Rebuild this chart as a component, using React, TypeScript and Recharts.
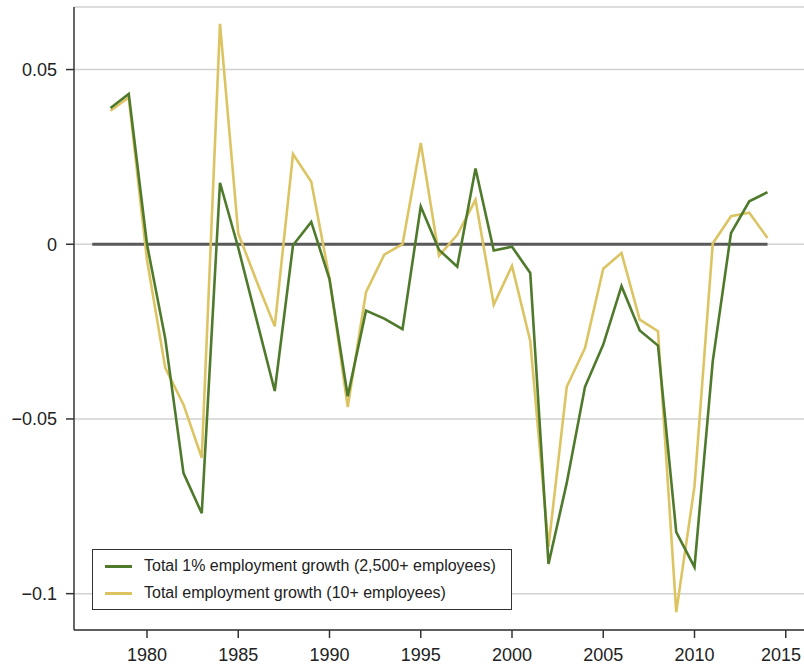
import { LineChart, Line, XAxis, YAxis, CartesianGrid } from 'recharts'

const GREEN  = '#4f7a2c'
const YELLOW = '#dcc463'
const ZERO   = '#595959'
const AXIS   = '#333333'
const FONT   = '"Liberation Sans", Arial, Helvetica, sans-serif'
const CHART_W = 804

// one row per year; the zero reference line spans the whole range
const YEARS = [
  1977, 1978, 1979, 1980, 1981, 1982, 1983, 1984, 1985, 1986,
  1987, 1988, 1989, 1990, 1991, 1992, 1993, 1994, 1995, 1996,
  1997, 1998, 1999, 2000, 2001, 2002, 2003, 2004, 2005, 2006,
  2007, 2008, 2009, 2010, 2011, 2012, 2013, 2014,
]

// 1978 – 2014
const TOP_1PCT_GROWTH = [
  0.039, 0.043, 0.0, -0.027, -0.0655, -0.077, 0.0176, -0.001, -0.0215,
  -0.042, -0.0003, 0.0064, -0.01, -0.0435, -0.019, -0.0213, -0.0243, 0.0108,
  -0.0016, -0.0064, 0.0217, -0.0018, -0.0007, -0.0082, -0.0915, -0.0683,
  -0.0408, -0.0287, -0.012, -0.0247, -0.029, -0.0824, -0.0924, -0.0335,
  0.0032, 0.0123, 0.0149,
]

// 1978 – 2014
const TOTAL_GROWTH = [
  0.0382, 0.042, -0.0045, -0.0354, -0.0459, -0.0611, 0.0631, 0.0031, -0.0105,
  -0.0235, 0.0258, 0.0179, -0.0097, -0.0466, -0.0137, -0.003, 0.0, 0.029,
  -0.0033, 0.0027, 0.0127, -0.0173, -0.0062, -0.0277, -0.0866, -0.0408,
  -0.0297, -0.007, -0.0025, -0.0216, -0.0249, -0.1053, -0.0693, 0.0002,
  0.008, 0.009, 0.0018,
]

const X_TICKS = [1980, 1985, 1990, 1995, 2000, 2005, 2010, 2015]
const Y_TICKS = [-0.1, -0.05, 0, 0.05]
const Y_LABELS: Record<string, string> = {
  '-0.1': '\u22120.1',
  '-0.05': '\u22120.05',
  '0': '0',
  '0.05': '0.05',
}

const LEGEND = [
  { label: 'Total 1% employment growth (2,500+ employees)', color: GREEN },
  { label: 'Total employment growth (10+ employees)', color: YELLOW },
]

const data = YEARS.map((year, i) => ({
  year,
  zero: 0,
  top: i === 0 ? null : TOP_1PCT_GROWTH[i - 1],
  total: i === 0 ? null : TOTAL_GROWTH[i - 1],
}))

const tickStyle = { fontSize: 18, fill: '#222', fontFamily: FONT }

// year labels; the last one is nudged left so it stays inside the frame
function YearTick(props: any) {
  const { x, y, payload } = props
  const half = 20
  const cx = Math.min(x, CHART_W - 3 - half)
  return (
    <text
      x={cx}
      y={y}
      dy="0.71em"
      textAnchor="middle"
      fontSize={18}
      fill="#222"
      fontFamily={FONT}
    >
      {payload.value}
    </text>
  )
}

export default function App() {
  return (
    <div style={{ position: 'absolute', left: 0, top: 0, width: 804, height: 666, background: '#fff' }}>
      <LineChart
        width={CHART_W}
        height={666}
        data={data}
        margin={{ top: 7, right: 0, left: 0, bottom: 0 }}
      >
        <CartesianGrid vertical={false} stroke="#d2d2d2" strokeWidth={1.5} />
        <XAxis
          type="number"
          dataKey="year"
          domain={[1976, 2016]}
          ticks={X_TICKS}
          height={36}
          tick={<YearTick />}
          tickSize={8}
          tickMargin={10}
          stroke={AXIS}
          strokeWidth={1.5}
        />
        <YAxis
          type="number"
          domain={[-0.1104, 0.0679]}
          ticks={Y_TICKS}
          width={74}
          tick={tickStyle}
          tickSize={8}
          tickMargin={9}
          tickFormatter={(v) => Y_LABELS[String(v)] ?? String(v)}
          stroke={AXIS}
          strokeWidth={1.5}
        />
        <Line
          dataKey="zero"
          stroke={ZERO}
          strokeWidth={3}
          dot={false}
          isAnimationActive={false}
        />
        <Line
          dataKey="total"
          stroke={YELLOW}
          strokeWidth={2.6}
          dot={false}
          isAnimationActive={false}
        />
        <Line
          dataKey="top"
          stroke={GREEN}
          strokeWidth={2.6}
          dot={false}
          isAnimationActive={false}
        />
      </LineChart>

      {/* boxed legend, lower left */}
      <div
        style={{
          position: 'absolute',
          left: 92,
          top: 549,
          width: 418,
          height: 59,
          border: '1.5px solid #333',
          background: '#fff',
          fontFamily: FONT,
          fontSize: 16,
          color: '#222',
        }}
      >
        {LEGEND.map((item, i) => (
          <div
            key={item.label}
            style={{ position: 'absolute', left: 12, top: 5 + i * 27, height: 22, display: 'flex', alignItems: 'center' }}
          >
            <span style={{ display: 'inline-block', width: 27, height: 3, background: item.color, marginRight: 12 }} />
            <span>{item.label}</span>
          </div>
        ))}
      </div>
    </div>
  )
}
